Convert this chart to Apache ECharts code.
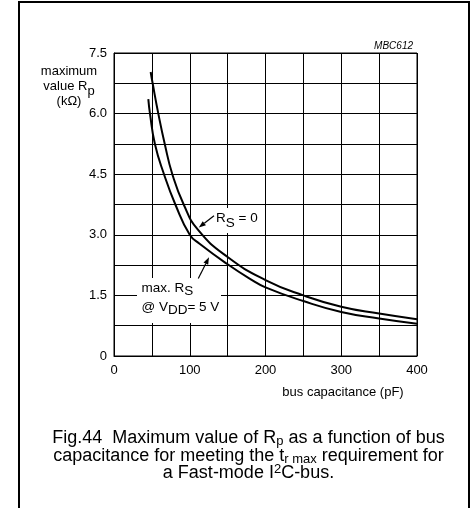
<!DOCTYPE html>
<html><head><meta charset="utf-8">
<script src="https://cdn.jsdelivr.net/npm/echarts@6/dist/echarts.min.js"></script>
<style>html,body{margin:0;padding:0;background:#fff}#c{width:472px;height:508px}</style>
</head><body><div id="c"></div>
<script>
// ---- data ----
const xTickValues = [0, 100, 200, 300, 400];
const xTickLabels = ['0', '100', '200', '300', '400'];
const yTickValues = [0, 1.5, 3.0, 4.5, 6.0, 7.5];
const yTickLabels = ['0', '1.5', '3.0', '4.5', '6.0', '7.5'];

// curve "RS = 0" : bus capacitance (pF) -> max Rp (kOhm)
const capRs0 = [48.4, 51, 58.5, 67, 77, 92, 111, 150, 200, 250, 300, 350, 400];
const rpRs0  = [7.03, 6.75, 6.0, 5.25, 4.5, 3.75, 3.12, 2.45, 1.88, 1.5, 1.22, 1.05, 0.91];

// curve "max. RS @ VDD = 5 V"
const capMaxRs = [45.3, 47.5, 54, 66, 81, 100, 113, 150, 179.5, 200, 250, 300, 350, 400];
const rpMaxRs  = [6.36, 6.0, 5.25, 4.5, 3.75, 3.0, 2.78, 2.27, 1.91, 1.70, 1.36, 1.09, 0.93, 0.80];

const F = 'Liberation Sans, Arial, Helvetica, sans-serif';

function labelFor(values, labels, v) {
  for (let i = 0; i < values.length; i++) {
    if (Math.abs(values[i] - v) < 1e-6) return labels[i];
  }
  return '';
}

function arrow(x1, y1, x2, y2) {
  const dx = x2 - x1, dy = y2 - y1;
  const L = Math.sqrt(dx * dx + dy * dy);
  const ux = dx / L, uy = dy / L;
  const hl = 7, hw = 2.6;
  const bx = x2 - ux * hl, by = y2 - uy * hl;
  const px = -uy, py = ux;
  return [
    { type: 'line', z: 110, shape: { x1: x1, y1: y1, x2: bx, y2: by }, style: { stroke: '#000', lineWidth: 1.2 } },
    { type: 'polygon', z: 110, shape: { points: [[x2, y2], [bx + px * hw, by + py * hw], [bx - px * hw, by - py * hw]] }, style: { fill: '#000' } }
  ];
}

const chart = echarts.init(document.getElementById('c'), null, { renderer: 'canvas' });

const axisLineStyle = { color: '#000', width: 1 };

const option = {
  animation: false,
  backgroundColor: '#fff',
  grid: { left: 114, top: 53, right: 55, bottom: 152, show: true, borderColor: '#000', borderWidth: 1, containLabel: false },
  xAxis: {
    type: 'value', min: 0, max: 400, interval: 50,
    axisLine: { show: true, lineStyle: axisLineStyle },
    axisTick: { show: false },
    splitLine: { show: true, lineStyle: axisLineStyle },
    axisLabel: {
      margin: 8, color: '#000', fontSize: 13, fontFamily: F,
      formatter: v => labelFor(xTickValues, xTickLabels, v)
    }
  },
  yAxis: {
    type: 'value', min: 0, max: 7.5, interval: 0.75,
    axisLine: { show: true, lineStyle: axisLineStyle },
    axisTick: { show: false },
    splitLine: { show: true, lineStyle: axisLineStyle },
    axisLabel: {
      margin: 7, color: '#000', fontSize: 13, fontFamily: F,
      formatter: v => labelFor(yTickValues, yTickLabels, v)
    }
  },
  series: [
    {
      type: 'line', name: 'RS = 0', showSymbol: false, symbol: 'none', smooth: 0.5,
      data: capRs0.map((c, i) => [c, rpRs0[i]]),
      lineStyle: { color: '#000', width: 2 }, z: 5
    },
    {
      type: 'line', name: 'max RS', showSymbol: false, symbol: 'none', smooth: 0.5,
      data: capMaxRs.map((c, i) => [c, rpMaxRs[i]]),
      lineStyle: { color: '#000', width: 2 }, z: 5
    }
  ],
  graphic: [
    // frame
    { type: 'rect', z: 120, shape: { x: 19, y: 2, width: 450, height: 560 }, style: { fill: 'none', stroke: '#000', lineWidth: 2 } },
    // code
    { type: 'text', z: 120, x: 413, y: 46, style: { text: 'MBC612', fontSize: 10, fontStyle: 'italic', fontFamily: F, fill: '#000', align: 'right', verticalAlign: 'middle' } },
    // y axis name
    { type: 'text', z: 120, x: 69, y: 64.2, style: {
      text: '{n|maximum}\n{n|value R}{s|p}\n{n|(kΩ)}', align: 'center', verticalAlign: 'top', fontSize: 13, fontFamily: F, lineHeight: 15,
      rich: {
        n: { fontSize: 13, fontFamily: F, lineHeight: 15, fill: '#000' },
        s: { fontSize: 13, fontFamily: F, lineHeight: 15, fill: '#000', padding: [10, 0, 0, 0] }
      } } },
    // x axis name
    { type: 'text', z: 120, x: 343, y: 392, style: { text: 'bus capacitance (pF)', fontSize: 13, fontFamily: F, fill: '#000', align: 'center', verticalAlign: 'middle' } },
    // white box behind RS = 0
    { type: 'rect', z: 100, shape: { x: 212, y: 208, width: 50, height: 25 }, style: { fill: '#fff' } },
    { type: 'text', z: 110, x: 216, y: 218, style: {
      text: '{n|R}{s|S}{n| = 0}', align: 'left', verticalAlign: 'middle', fontSize: 13, fontFamily: F, lineHeight: 15,
      rich: {
        n: { fontSize: 13.5, fontFamily: F, lineHeight: 15, fill: '#000' },
        s: { fontSize: 13.5, fontFamily: F, lineHeight: 15, fill: '#000', padding: [10, 0, 0, 0] }
      } } },
    // white box behind max RS
    { type: 'rect', z: 100, shape: { x: 137, y: 278, width: 84, height: 45 }, style: { fill: '#fff' } },
    { type: 'text', z: 110, x: 141.5, y: 278.8, style: {
      text: '{n|max. R}{s|S}\n{n|@ V}{s|DD}{n|= 5 V}', align: 'left', verticalAlign: 'top', fontSize: 13, fontFamily: F, lineHeight: 19,
      rich: {
        n: { fontSize: 13.5, fontFamily: F, lineHeight: 19, fill: '#000' },
        s: { fontSize: 13.5, fontFamily: F, lineHeight: 19, fill: '#000', padding: [6, 0, 0, 0] }
      } } },
    ...arrow(214, 215.7, 198.8, 227.5),
    ...arrow(198.3, 278.5, 209, 257.3),
    // caption
    { type: 'text', z: 120, x: 248.5, y: 429.5, style: {
      text: '{n|Fig.44  Maximum value of R}{s|p}{n| as a function of bus}\n{n|capacitance for meeting the t}{s|r max}{n| requirement for}\n{n|a Fast-mode I}{u|2}{n|C-bus.}',
      align: 'center', verticalAlign: 'top', fontSize: 18, fontFamily: F, lineHeight: 17.5,
      rich: {
        n: { fontSize: 18, fontFamily: F, lineHeight: 17.5, fill: '#000' },
        s: { fontSize: 13, fontFamily: F, lineHeight: 17.5, fill: '#000', padding: [7, 0, 0, 0] },
        u: { fontSize: 13, fontFamily: F, lineHeight: 17.5, fill: '#000', padding: [0, 0, 7, 0] }
      } } }
  ]
};
chart.setOption(option);
</script>
</body></html>
